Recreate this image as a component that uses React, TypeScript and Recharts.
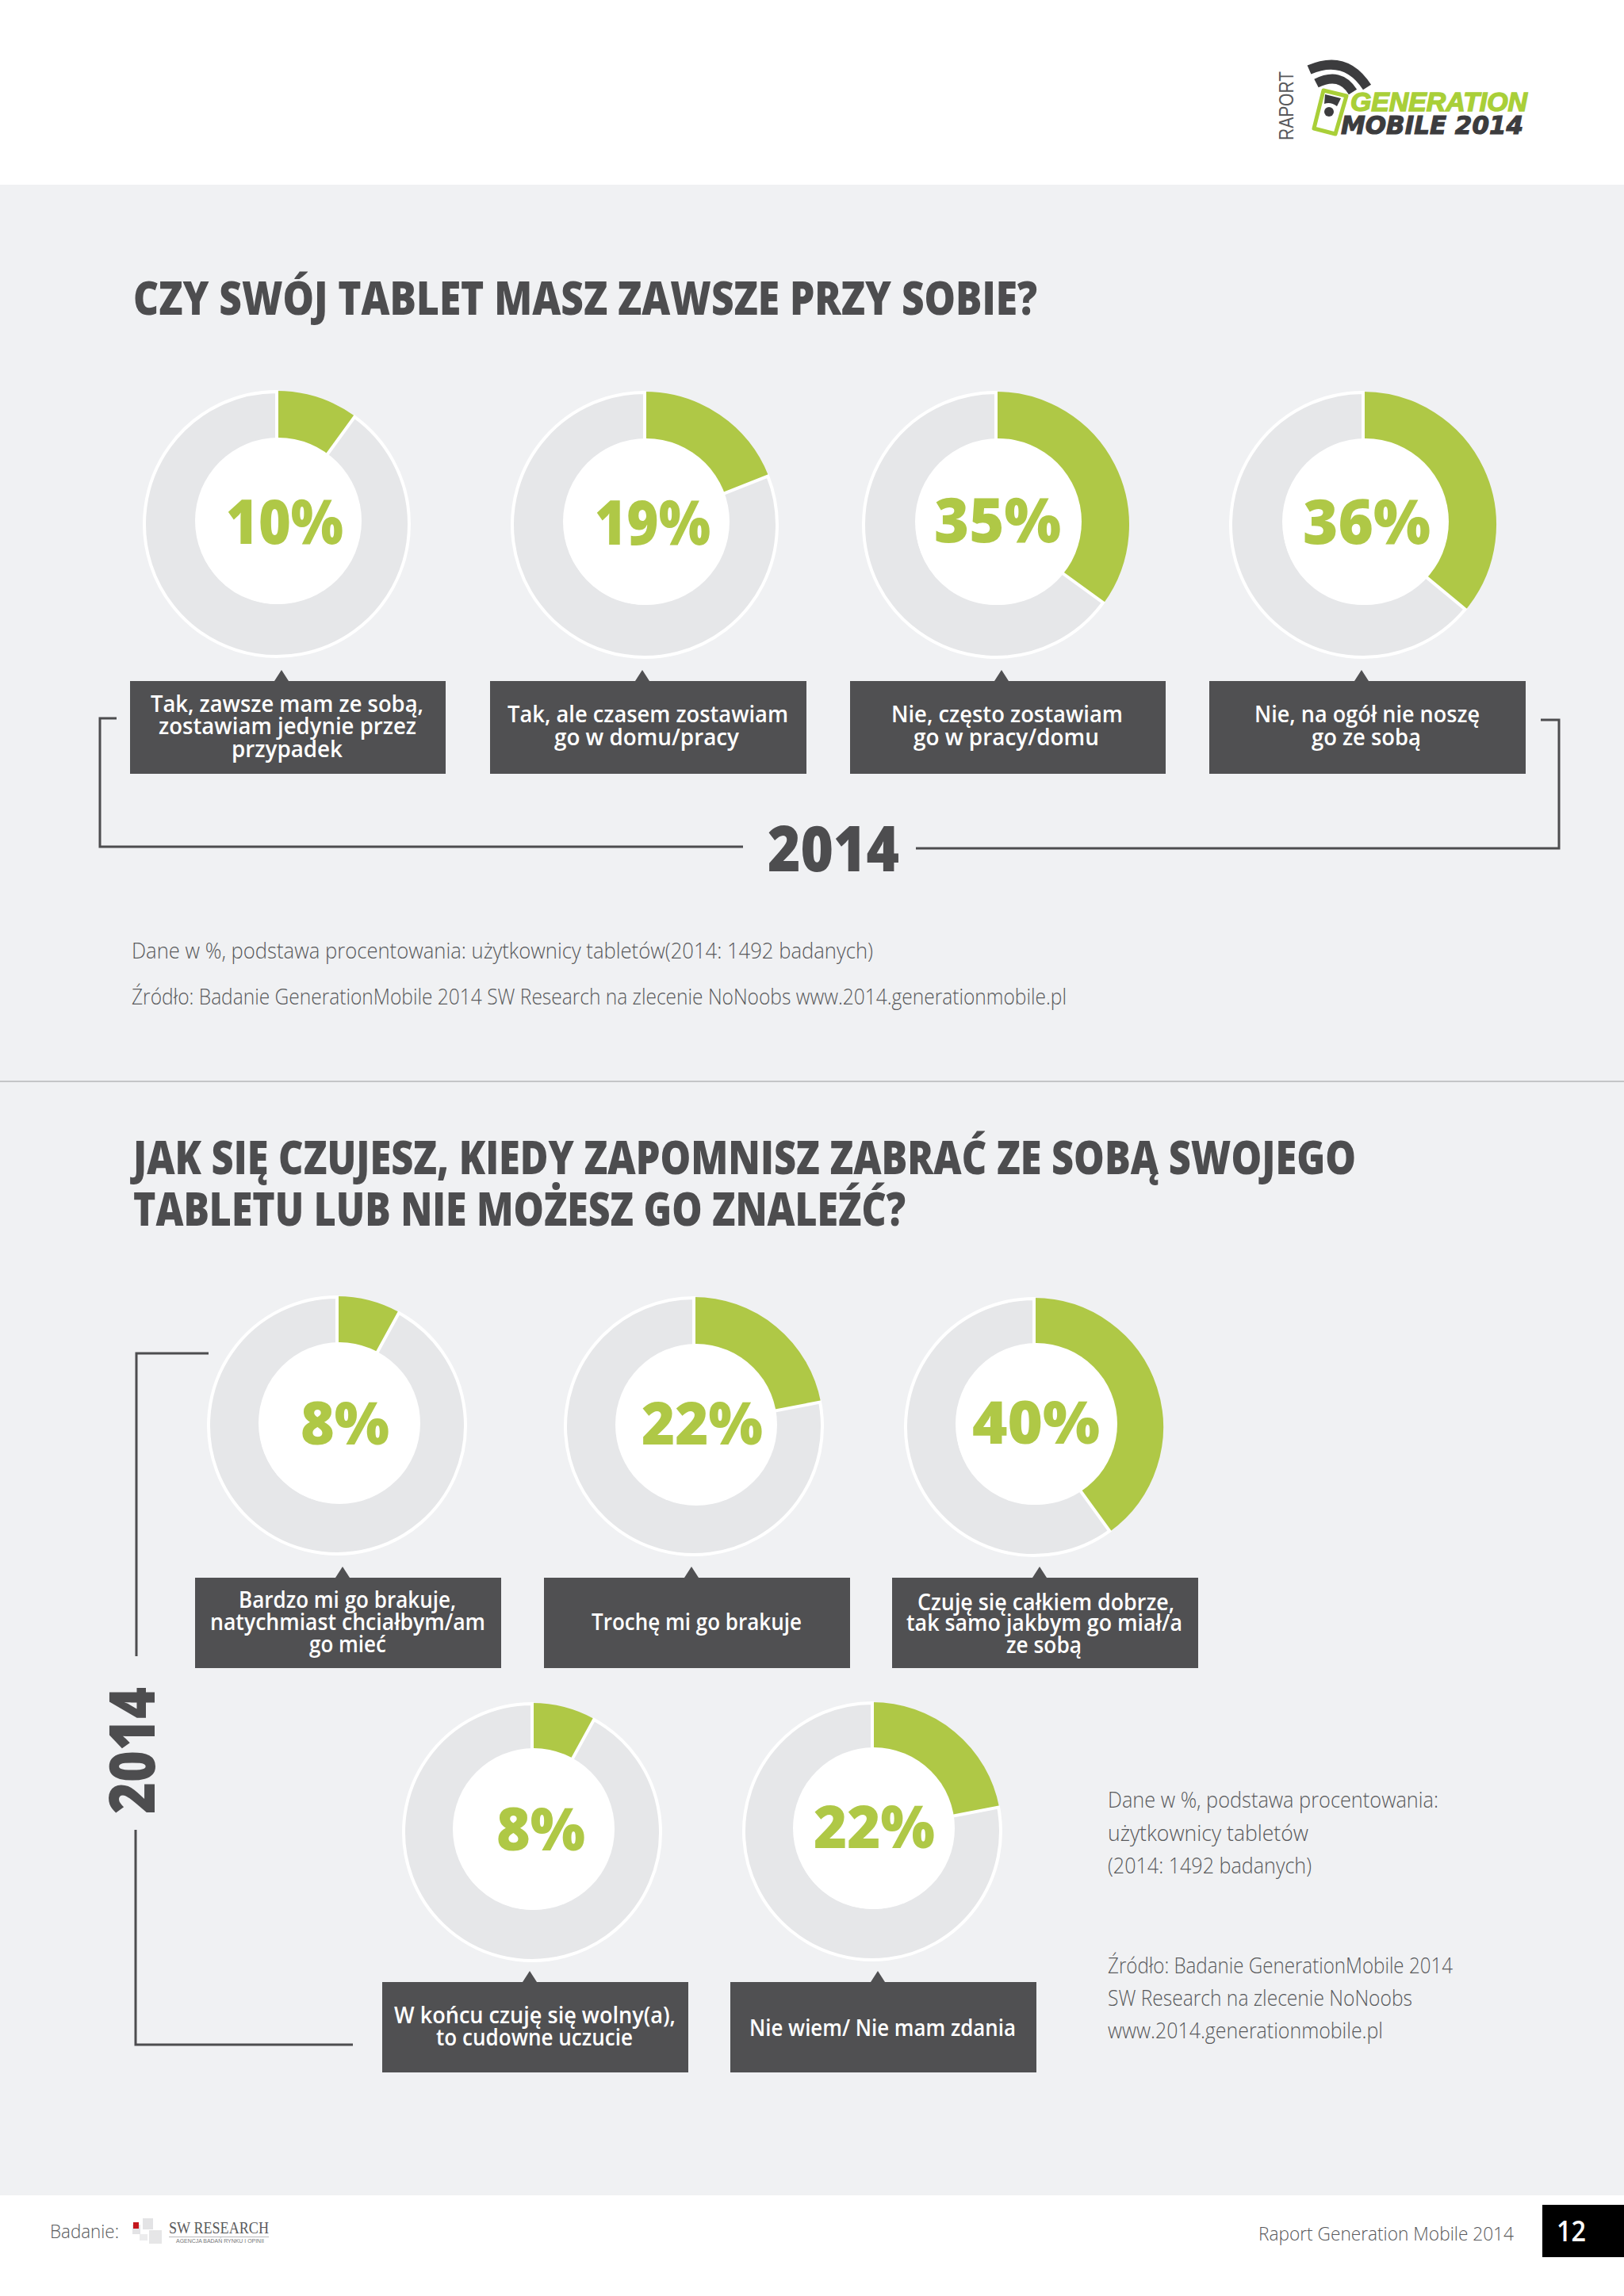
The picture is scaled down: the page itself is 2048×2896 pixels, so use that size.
import React from "react";
import { PieChart, Pie, Cell } from "recharts";

const GREEN = "#afc846";
const GREY = "#e6e7e9";
const DARK = "#505052";
const BG = "#f0f1f3";
const HEAD = '"Open Sans", sans-serif';

const title1 = "CZY SWÓJ TABLET MASZ ZAWSZE PRZY SOBIE?";
const title2a = "JAK SIĘ CZUJESZ, KIEDY ZAPOMNISZ ZABRAĆ ZE SOBĄ SWOJEGO";
const title2b = "TABLETU LUB NIE MOŻESZ GO ZNALEŹĆ?";
const yearLabel = "2014";

const values = [10, 19, 35, 36, 8, 22, 40, 8, 22];
const answers = [
  ["Tak, zawsze mam ze sobą,", "zostawiam jedynie przez", "przypadek"],
  ["Tak, ale czasem zostawiam", "go w domu/pracy"],
  ["Nie, często zostawiam", "go w pracy/domu"],
  ["Nie, na ogół nie noszę", "go ze sobą"],
  ["Bardzo mi go brakuje,", "natychmiast chciałbym/am", "go mieć"],
  ["Trochę mi go brakuje"],
  ["Czuję się całkiem dobrze,", "tak samo jakbym go miał/a", "ze sobą"],
  ["W końcu czuję się wolny(a),", "to cudowne uczucie"],
  ["Nie wiem/ Nie mam zdania"],
];

const noteTop = [
  "Dane w %, podstawa procentowania: użytkownicy tabletów(2014: 1492 badanych)",
  "Źródło: Badanie GenerationMobile 2014 SW Research na zlecenie NoNoobs www.2014.generationmobile.pl",
];
const noteSide = [
  "Dane w %, podstawa procentowania:",
  "użytkownicy tabletów",
  "(2014: 1492 badanych)",
  "Źródło: Badanie GenerationMobile 2014",
  "SW Research na zlecenie NoNoobs",
  "www.2014.generationmobile.pl",
];

// layout only: ring centre/radius, hole centre/radius
const rings = [
  { cx: 349, cy: 661, r: 169, hx: 351, hy: 657, hr: 105 },
  { cx: 813, cy: 662, r: 169, hx: 815, hy: 658, hr: 105 },
  { cx: 1256, cy: 662, r: 169, hx: 1259, hy: 658, hr: 105 },
  { cx: 1719, cy: 662, r: 169, hx: 1722, hy: 658, hr: 105 },
  { cx: 425, cy: 1798, r: 164, hx: 428, hy: 1795, hr: 102 },
  { cx: 875, cy: 1799, r: 164, hx: 878, hy: 1797, hr: 102 },
  { cx: 1304, cy: 1800, r: 164, hx: 1307, hy: 1796, hr: 102 },
  { cx: 671, cy: 2311, r: 164, hx: 673, hy: 2307, hr: 102 },
  { cx: 1100, cy: 2310, r: 164, hx: 1102, hy: 2306, hr: 102 },
];
const pctText = [
  { x0: 285, x1: 433, y: 686, s: 78 },
  { x0: 750, x1: 896, y: 687, s: 78 },
  { x0: 1178, x1: 1338, y: 684, s: 78 },
  { x0: 1643, x1: 1804, y: 686, s: 78 },
  { x0: 379, x1: 491, y: 1822, s: 75 },
  { x0: 809, x1: 962, y: 1822, s: 75 },
  { x0: 1226, x1: 1387, y: 1821, s: 75 },
  { x0: 626, x1: 738, y: 2334, s: 75 },
  { x0: 1026, x1: 1179, y: 2331, s: 75 },
];
const boxes = [
  { x0: 164, x1: 562, y0: 859, y1: 976, tx: 355, lines: [[190, 534, 898], [200, 525, 926], [292, 432, 955]] },
  { x0: 618, x1: 1017, y0: 859, y1: 976, tx: 810, lines: [[640, 994, 911], [699, 932, 940]] },
  { x0: 1072, x1: 1470, y0: 859, y1: 976, tx: 1263, lines: [[1124, 1416, 911], [1152, 1386, 940]] },
  { x0: 1525, x1: 1924, y0: 859, y1: 976, tx: 1717, lines: [[1582, 1866, 911], [1654, 1792, 940]] },
  { x0: 246, x1: 632, y0: 1990, y1: 2104, tx: 432, lines: [[301, 575, 2028], [265, 612, 2056], [390, 487, 2084]] },
  { x0: 686, x1: 1072, y0: 1990, y1: 2104, tx: 872, lines: [[746, 1011, 2056]] },
  { x0: 1125, x1: 1511, y0: 1990, y1: 2104, tx: 1311, lines: [[1157, 1481, 2031], [1143, 1491, 2057], [1269, 1364, 2085]] },
  { x0: 482, x1: 868, y0: 2500, y1: 2614, tx: 668, lines: [[497, 852, 2552], [550, 798, 2580]] },
  { x0: 921, x1: 1307, y0: 2500, y1: 2614, tx: 1107, lines: [[945, 1281, 2568]] },
];
const noteSideEnds = [[1814, 2279], [1650, 2321], [1654, 2362], [1832, 2488], [1781, 2529], [1744, 2570]];

function Fit({ x0, x1, y, size, weight = 400, fill = DARK, family = HEAD, style, stroke, children }: any) {
  return (
    <text
      x={x0}
      y={y}
      fontSize={size}
      fontWeight={weight}
      fontFamily={family}
      fontStyle={style}
      fill={fill}
      stroke={stroke ? fill : undefined}
      strokeWidth={stroke}
      textLength={x1 - x0}
      lengthAdjust="spacingAndGlyphs"
    >
      {children}
    </text>
  );
}

function Donut({ value, ring }: { value: number; ring: (typeof rings)[number] }) {
  const size = ring.r * 2 + 12;
  const data = [
    { name: "Tak", value },
    { name: "Reszta", value: 100 - value },
  ];
  return (
    <div style={{ position: "absolute", left: ring.cx - size / 2, top: ring.cy - size / 2 }}>
      <PieChart width={size} height={size} margin={{ top: 0, right: 0, bottom: 0, left: 0 }}>
        <Pie
          data={data}
          dataKey="value"
          startAngle={90}
          endAngle={-270}
          innerRadius={ring.hr - 6}
          outerRadius={ring.r - 2}
          isAnimationActive={false}
        >
          <Cell fill={GREEN} stroke={GREEN} strokeWidth={2} />
          <Cell fill={GREY} stroke="#ffffff" strokeWidth={4} />
        </Pie>
      </PieChart>
    </div>
  );
}

export default function App() {
  return (
    <div style={{ position: "absolute", left: 0, top: 0, width: 2048, height: 2896, background: "#fff", overflow: "hidden" }}>
      <div style={{ position: "absolute", left: 0, top: 233, width: 2048, height: 2536, background: BG }} />
      <div style={{ position: "absolute", left: 0, top: 1363, width: 2048, height: 2, background: "#c4c5c7" }} />
      {values.map((v, i) => (
        <Donut key={i} value={v} ring={rings[i]} />
      ))}
      <svg width={2048} height={2896} style={{ position: "absolute", left: 0, top: 0 }}>
        {/* header logo */}
        <text
          transform="translate(1631 177) rotate(-90)"
          fontSize={26}
          fontFamily='"Liberation Sans", sans-serif'
          fill="#58595b"
          textLength={87}
          lengthAdjust="spacingAndGlyphs"
        >
          RAPORT
        </text>
        <path d="M1651 88 Q1697 68 1724 110" fill="none" stroke="#3c3c3e" strokeWidth={12} />
        <path d="M1660 105 Q1690 90 1706 116" fill="none" stroke="#3c3c3e" strokeWidth={12} />
        <path d="M1669 114 L1698 121 L1684 169 L1657 162 Z" fill="#fff" stroke="#a9cf38" strokeWidth={5} strokeLinejoin="round" />
        <path d="M1671 119 L1691 124 L1686 134 Q1678 128 1670 131 Z" fill="#3c3c3e" />
        <circle cx={1676} cy={141} r={6} fill="#3c3c3e" />
        <Fit x0={1703} x1={1926} y={140} size={34} weight={700} style="italic" fill="#a9cf38" stroke={1.5} family='"Liberation Sans", sans-serif'>GENERATION</Fit>
        <Fit x0={1691} x1={1921} y={169} size={32} weight={700} style="italic" fill="#3c3c3e" stroke={1.2} family='"DejaVu Sans", sans-serif'>MOBILE 2014</Fit>

        {/* titles */}
        <Fit x0={168} x1={1308} y={397} size={59} weight={800} fill="#4d4d4f">{title1}</Fit>
        <Fit x0={168} x1={1710} y={1481} size={59} weight={800} fill="#4d4d4f">{title2a}</Fit>
        <Fit x0={168} x1={1142} y={1546} size={59} weight={800} fill="#4d4d4f">{title2b}</Fit>

        {/* donut holes and percents */}
        {rings.map((r, i) => (
          <circle key={i} cx={r.hx} cy={r.hy} r={r.hr} fill="#fff" />
        ))}
        {values.map((v, i) => (
          <Fit key={i} x0={pctText[i].x0} x1={pctText[i].x1} y={pctText[i].y} size={pctText[i].s} weight={800} fill={GREEN}>
            {`${v}%`}
          </Fit>
        ))}

        {/* answer boxes */}
        {boxes.map((b, i) => (
          <g key={i}>
            <rect x={b.x0} y={b.y0} width={b.x1 - b.x0} height={b.y1 - b.y0} fill={DARK} />
            <path d={`M${b.tx - 9} ${b.y0} L${b.tx} ${b.y0 - 14} L${b.tx + 9} ${b.y0} Z`} fill={DARK} />
            {answers[i].map((line, j) => (
              <Fit key={j} x0={b.lines[j][0]} x1={b.lines[j][1]} y={b.lines[j][2]} size={29} weight={600} fill="#ffffff">
                {line}
              </Fit>
            ))}
          </g>
        ))}

        {/* brackets */}
        <g fill="none" stroke="#4d4d4f" strokeWidth={3}>
          <path d="M147 906 H126 V1068 H937" />
          <path d="M1155 1070 H1966 V908 H1943" />
          <path d="M263 1707 H172 V2089" />
          <path d="M171 2308 V2579 H445" />
        </g>
        <Fit x0={968} x1={1134} y={1099} size={80} weight={800} fill="#4d4d4f">{yearLabel}</Fit>
        <text
          transform="translate(195 2288) rotate(-90)"
          fontSize={80}
          fontWeight={800}
          fontFamily={HEAD}
          fill="#4d4d4f"
          textLength={160}
          lengthAdjust="spacingAndGlyphs"
        >
          {yearLabel}
        </text>

        {/* notes */}
        <Fit x0={166} x1={1101} y={1209} size={28} weight={300} fill="#58595b">{noteTop[0]}</Fit>
        <Fit x0={166} x1={1345} y={1267} size={28} weight={300} fill="#58595b">{noteTop[1]}</Fit>
        {noteSide.map((t, i) => (
          <Fit key={i} x0={1397} x1={noteSideEnds[i][0]} y={noteSideEnds[i][1] + 1} size={28} weight={300} fill="#58595b">
            {t}
          </Fit>
        ))}

        {/* footer */}
        <Fit x0={63} x1={150} y={2823} size={24} weight={300} fill="#58595b">Badanie:</Fit>
        <g>
          <rect x={180} y={2798} width={13} height={14} fill="#e3e3e5" />
          <rect x={167} y={2806} width={10} height={12} fill="#e3e3e5" />
          <rect x={168} y={2803} width={7} height={8} fill="#c4161c" />
          <rect x={188} y={2813} width={16} height={17} fill="#e6e6e7" />
          <rect x={176} y={2818} width={10} height={8} fill="#ececed" />
        </g>
        <Fit x0={213} x1={339} y={2817} size={22} fill="#5a5a5c" family='"Liberation Serif", serif'>SW RESEARCH</Fit>
        <rect x={213} y={2821} width={126} height={1} fill="#b9b9bb" />
        <Fit x0={222} x1={333} y={2829} size={7} fill="#777779" family='"Liberation Sans", sans-serif'>AGENCJA BADAŃ RYNKU I OPINII</Fit>
        <Fit x0={1587} x1={1909} y={2826} size={24} weight={300} fill="#58595b">Raport Generation Mobile 2014</Fit>
        <rect x={1945} y={2781} width={103} height={66} fill="#000" />
        <Fit x0={1963} x1={2000} y={2827} size={36} weight={600} fill="#fff">12</Fit>
      </svg>
    </div>
  );
}
